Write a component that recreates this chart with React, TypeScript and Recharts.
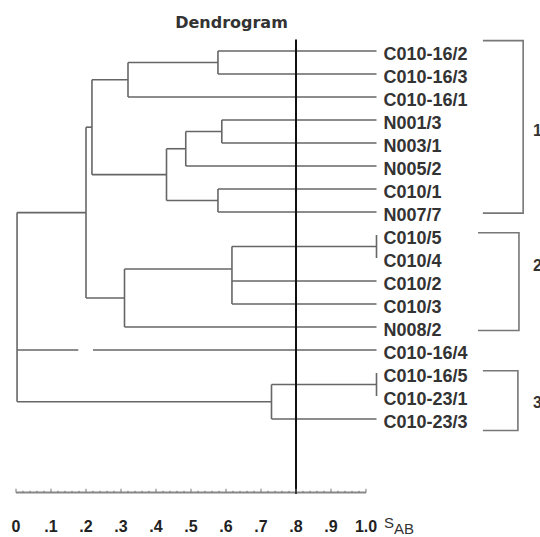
import React from "react";
import { ComposedChart, Line, Scatter, XAxis, YAxis, ReferenceLine } from "recharts";

// leaves, top to bottom
const LEAVES = [
  "C010-16/2",
  "C010-16/3",
  "C010-16/1",
  "N001/3",
  "N003/1",
  "N005/2",
  "C010/1",
  "N007/7",
  "C010/5",
  "C010/4",
  "C010/2",
  "C010/3",
  "N008/2",
  "C010-16/4",
  "C010-16/5",
  "C010-23/1",
  "C010-23/3",
];
const LEAF_END = 1.03;
const CUT = 0.8;

// merges in order; a child is a leaf index or 17 + merge number
const MERGE_CHILDREN = [
  [0, 1],
  [17, 2],
  [3, 4],
  [19, 5],
  [6, 7],
  [20, 21],
  [18, 22],
  [8, 9],
  [24, 10, 11],
  [25, 12],
  [23, 26],
  [14, 15],
  [28, 16],
  [27, 13, 29],
];
const MERGE_LEVELS = [0.577, 0.32, 0.588, 0.485, 0.577, 0.43, 0.217, 1.03, 0.617, 0.31, 0.2, 1.03, 0.73, 0.003];
const MERGE_POS: Record<number, number> = { 8: 9.48 };
const GAPS = [{ leaf: 13, from: 0.178, to: 0.22 }];

const GROUP_NAMES = ["1", "2", "3"];
const GROUP_TOP = [-0.45, 7.9, 13.9];
const GROUP_BOTTOM = [7.05, 12.15, 16.5];
const GROUP_LEFT = [1.334, 1.32, 1.334];
const GROUP_RIGHT = [1.449, 1.437, 1.434];
const GROUP_LABEL_POS = [3.45, 9.3, 15.25];
const GROUP_LABEL_X = 1.477;

const TICK_LABELS = ["0", ".1", ".2", ".3", ".4", ".5", ".6", ".7", ".8", ".9", "1.0"];
const AXIS_Y = 19.2;

type Pt = { x: number; y: number };

const pos: number[] = LEAVES.map((_, i) => i);
const lvl: number[] = LEAVES.map(() => LEAF_END);
const segments: Pt[][] = [];
MERGE_CHILDREN.forEach((kids, k) => {
  const h = MERGE_LEVELS[k];
  const ys = kids.map((c) => pos[c]);
  const top = Math.min(...ys);
  const bot = Math.max(...ys);
  kids.forEach((c) => {
    if (lvl[c] === h) return;
    const gap = GAPS.find((g) => g.leaf === c);
    if (gap) {
      segments.push([{ x: h, y: pos[c] }, { x: gap.from, y: pos[c] }]);
      segments.push([{ x: gap.to, y: pos[c] }, { x: lvl[c], y: pos[c] }]);
    } else {
      segments.push([{ x: h, y: pos[c] }, { x: lvl[c], y: pos[c] }]);
    }
  });
  segments.push([{ x: h, y: top }, { x: h, y: bot }]);
  pos.push(MERGE_POS[k] ?? (top + bot) / 2);
  lvl.push(h);
});

const brackets: Pt[][] = GROUP_NAMES.map((_, g) => [
  { x: GROUP_LEFT[g], y: GROUP_TOP[g] },
  { x: GROUP_RIGHT[g], y: GROUP_TOP[g] },
  { x: GROUP_RIGHT[g], y: GROUP_BOTTOM[g] },
  { x: GROUP_LEFT[g], y: GROUP_BOTTOM[g] },
]);

const leafPoints = LEAVES.map((name, i) => ({ x: LEAF_END, y: i, name }));
const groupPoints = GROUP_NAMES.map((name, g) => ({ x: GROUP_LABEL_X, y: GROUP_LABEL_POS[g], name }));
const ticks = Array.from({ length: 51 }, (_, i) => +(i * 0.02).toFixed(2));

function AxisTick({ x, y, payload }: any) {
  const v = payload.value;
  const idx = Math.round(v * 10);
  const major = Math.abs(v * 10 - idx) < 1e-6;
  const base = y - 1;
  return (
    <g>
      <line x1={x} x2={x} y1={base} y2={base - (major ? 4 : 2)} stroke="#777" strokeWidth={1} />
      {major && (
        <text x={x} y={y + 38} textAnchor="middle" fontFamily="Liberation Sans" fontWeight="bold" fontSize={16} fill="#222">
          {TICK_LABELS[idx]}
        </text>
      )}
      {major && idx === 10 && (
        <text x={x + 18} y={y + 34} fontFamily="Liberation Sans" fontSize={15} fill="#333">
          S<tspan dy={6}>AB</tspan>
        </text>
      )}
    </g>
  );
}

const LeafLabel = (props: any) => (
  <text x={props.cx + 7} y={props.cy + 9} fontFamily="Liberation Sans" fontWeight="bold" fontSize={18} fill="#333">
    {props.payload.name}
  </text>
);

const GroupLabel = (props: any) => (
  <text x={props.cx} y={props.cy + 6} fontFamily="Liberation Sans" fontWeight="bold" fontSize={16} fill="#333">
    {props.payload.name}
  </text>
);

export default function App() {
  return (
    <div style={{ position: "absolute", left: 0, top: 0, width: 540, height: 537, background: "#fff" }}>
      <div
        style={{
          position: "absolute",
          left: 0,
          top: 14,
          width: 463,
          textAlign: "center",
          fontFamily: "DejaVu Sans",
          fontWeight: "bold",
          fontSize: 16,
          lineHeight: "18px",
          color: "#333",
        }}
      >
        Dendrogram
      </div>
      <ComposedChart width={540} height={537} margin={{ top: 39.5, right: 6, bottom: 3.25, left: 16 }}>
        <XAxis
          type="number"
          dataKey="x"
          domain={[0, 1.48]}
          ticks={ticks}
          interval={0}
          tick={<AxisTick />}
          tickSize={0}
          tickMargin={0}
          axisLine={false}
          height={40}
        />
        <YAxis type="number" dataKey="y" domain={[-0.5, 19.25]} reversed hide />
        {segments.map((seg, i) => (
          <Line
            key={"s" + i}
            data={seg}
            dataKey="y"
            stroke="#666"
            strokeWidth={1.6}
            dot={false}
            activeDot={false}
            isAnimationActive={false}
          />
        ))}
        {brackets.map((b, i) => (
          <Line
            key={"b" + i}
            data={b}
            dataKey="y"
            stroke="#777"
            strokeWidth={1.6}
            dot={false}
            activeDot={false}
            isAnimationActive={false}
          />
        ))}
        <Line
          data={[
            { x: 0, y: AXIS_Y },
            { x: 1, y: AXIS_Y },
          ]}
          dataKey="y"
          stroke="#888"
          strokeWidth={2}
          dot={false}
          activeDot={false}
          isAnimationActive={false}
        />
        <ReferenceLine x={CUT} stroke="#111" strokeWidth={2} />
        <Scatter data={leafPoints} dataKey="y" shape={LeafLabel} isAnimationActive={false} />
        <Scatter data={groupPoints} dataKey="y" shape={GroupLabel} isAnimationActive={false} />
      </ComposedChart>
    </div>
  );
}
